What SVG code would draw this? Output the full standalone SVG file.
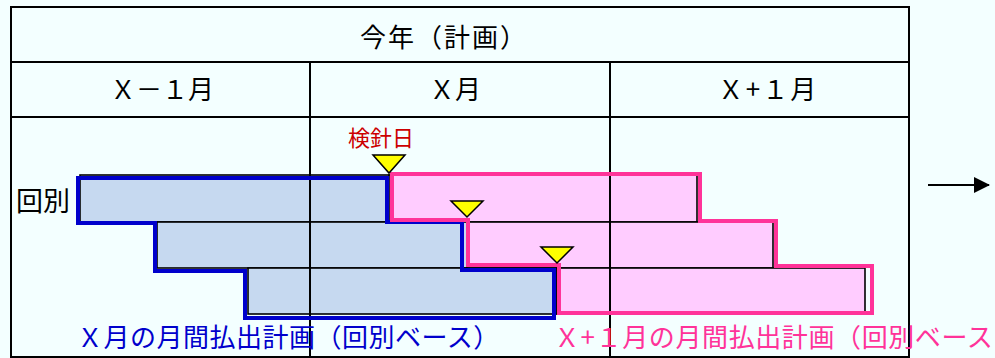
<svg xmlns="http://www.w3.org/2000/svg" width="995" height="358" viewBox="0 0 995 358">
<defs>
<style>
.t{font-family:"Noto Sans CJK JP","Noto Sans",sans-serif;}
.grid{stroke:#000;stroke-width:2;fill:none;}
.barb{fill:#C6D9F0;stroke:#000;stroke-width:1.6;}
.barp{fill:#FFCCFF;stroke:#000;stroke-width:1.6;}
.tri{fill:#FFFF00;stroke:#000;stroke-width:1.5;stroke-linejoin:miter;}
</style>
<marker id="ah" markerWidth="16" markerHeight="16" refX="15" refY="8" orient="auto" markerUnits="userSpaceOnUse" viewBox="0 0 16 16">
<path d="M0,0 L16,8 L0,16 Z" fill="#000"/>
</marker>
</defs>
<rect x="0" y="0" width="995" height="358" fill="#F3FFFF"/>
<g id="bars">
<rect class="barb" x="80" y="175" width="309" height="47"/>
<rect class="barp" x="389" y="175" width="308" height="47"/>
<rect class="barb" x="157" y="222" width="310" height="46"/>
<rect class="barp" x="467" y="222" width="306" height="46"/>
<rect class="barb" x="248" y="268" width="309" height="46"/>
<rect class="barp" x="557" y="268" width="308" height="46"/>
</g>
<g id="table">
<rect class="grid" x="11" y="7" width="898" height="350"/>
<line class="grid" x1="11" y1="62" x2="909" y2="62"/>
<line class="grid" x1="11" y1="117" x2="909" y2="117"/>
<line class="grid" x1="310" y1="62" x2="310" y2="357"/>
<line class="grid" x1="610" y1="62" x2="610" y2="357"/>
<text class="t" x="360" y="47" font-size="26" letter-spacing="2">今年（計画）</text>
<text class="t" x="162" y="99" font-size="26" text-anchor="middle">Ｘ－１月</text>
<text class="t" x="455" y="99" font-size="26" text-anchor="middle">Ｘ月</text>
<text class="t" x="768" y="99" font-size="26" text-anchor="middle" letter-spacing="2">Ｘ+１月</text>
</g>
<g id="plan-x">
<polygon points="78,178 387,178 387,222 462,222 462,270 554,270 554,318 245,318 245,271 155,271 155,223 78,223" fill="none" stroke="#0000CC" stroke-width="4"/>
<text class="t" x="77" y="347" font-size="26" letter-spacing="0.5" fill="#0000CC">Ｘ月の月間払出計画（回別ベース）</text>
</g>
<g id="plan-x1">
<polygon points="392,174 700,174 700,221 776,221 776,266 872,266 872,313 559,313 559,265 468,265 468,220 392,220" fill="none" stroke="#FF3399" stroke-width="4"/>
<text class="t" x="554" y="347" font-size="26" letter-spacing="0.6" fill="#FF3399">Ｘ+１月の月間払出計画（回別ベース</text>
</g>
<g id="meter-days">
<polygon class="tri" points="373,155 405,155 389,173"/>
<polygon class="tri" points="451,201 483,201 467,217"/>
<polygon class="tri" points="541,247 573,247 557,263"/>
<text class="t" x="348" y="146" font-size="22" fill="#CC0000">検針日</text>
</g>
<g id="row-label">
<text class="t" x="16" y="211" font-size="27">回別</text>
</g>
<g id="connectors">
<line x1="928" y1="185" x2="989" y2="185" stroke="#000" stroke-width="2" marker-end="url(#ah)"/>
</g>
</svg>
